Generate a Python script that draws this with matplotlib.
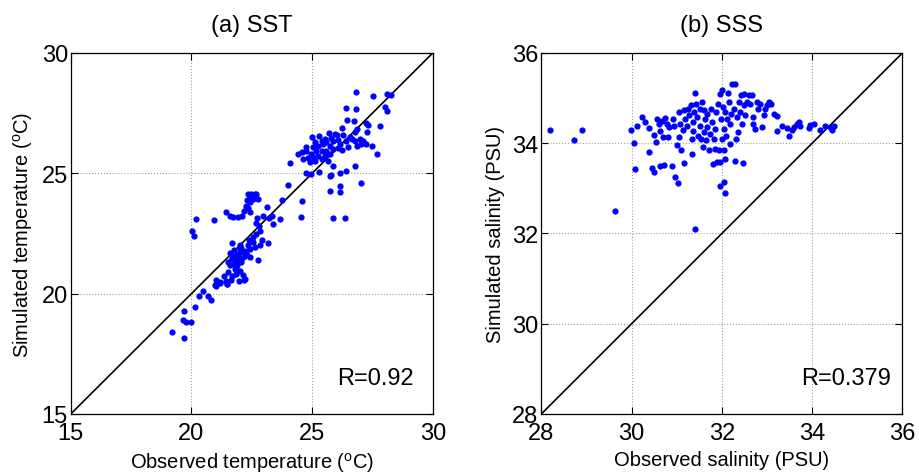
import matplotlib
matplotlib.use("Agg")
import matplotlib.pyplot as plt
from matplotlib import font_manager

# SST scatter values (observed, simulated), degC
sst_obs = [26.81, 27.50, 28.08, 28.25, 26.39, 26.81, 28.00, 28.11, 26.45, 26.75,
           27.22, 27.32, 27.80, 26.22, 26.86, 26.78, 27.28, 25.70, 25.94, 26.04,
           25.01, 25.29, 25.52, 25.80, 26.28, 26.56, 26.67, 26.97, 27.11, 25.11,
           25.39, 25.59, 25.87, 26.08, 26.42, 26.77, 27.04, 27.22, 27.46, 24.76,
           25.04, 25.25, 25.46, 25.73, 26.15, 26.49, 26.84, 24.42, 24.56, 24.76,
           24.97, 25.18, 25.39, 25.59, 25.87, 26.08, 26.22, 24.63, 24.83, 25.04,
           25.25, 25.52, 25.73, 27.67, 24.07, 24.90, 25.11, 25.39, 25.66, 25.87,
           26.77, 26.42, 24.76, 24.97, 25.29, 25.73, 25.80, 26.15, 24.01, 27.02,
           26.15, 25.76, 26.15, 24.56, 23.77, 25.85, 26.36, 24.52,
           22.35, 22.48, 22.62, 22.41, 22.66, 22.76, 22.55, 22.30, 22.41, 22.25,
           22.35, 22.17, 22.41, 22.11, 21.45, 21.59, 21.72, 21.93, 23.13, 22.97,
           23.20, 23.34, 23.66, 23.38, 22.72, 22.66, 22.80, 22.86, 22.69, 22.53,
           22.39, 22.55, 22.93, 23.17, 22.83, 22.62, 22.41, 22.28, 22.11, 21.93,
           21.72, 21.86, 21.66, 21.52, 21.59, 21.79, 22.07, 22.21, 22.41, 22.00,
           21.68, 22.03, 22.35, 22.76, 21.79, 22.00, 22.14, 21.86, 21.66, 21.52,
           21.34, 21.03, 21.20, 21.48, 20.96, 20.48, 20.20, 20.92, 20.04, 20.09,
           21.97, 22.21, 21.70, 21.90, 22.00, 21.80, 22.10, 21.60, 21.90, 22.20,
           21.75, 22.05, 21.85, 22.30,
           20.32, 20.69, 20.79, 20.14, 19.70, 19.63, 19.77, 19.97, 19.21, 19.70,
           21.01, 21.20, 21.48, 21.42, 21.62, 22.18]
sst_sim = [28.39, 28.23, 28.31, 28.27, 27.73, 27.65, 27.76, 27.59, 27.22, 27.16,
           27.08, 27.01, 26.95, 26.87, 26.84, 26.73, 26.70, 26.66, 26.63, 26.57,
           26.50, 26.54, 26.43, 26.45, 26.57, 26.50, 26.43, 26.43, 26.36, 26.29,
           26.36, 26.29, 26.36, 26.39, 26.36, 26.32, 26.22, 26.22, 26.15, 26.08,
           26.08, 26.15, 26.22, 26.15, 26.22, 26.08, 26.15, 25.80, 25.90, 25.94,
           25.80, 25.94, 25.94, 25.94, 26.01, 26.04, 25.97, 25.60, 25.62, 25.67,
           25.71, 25.71, 25.80, 25.79, 25.42, 25.46, 25.49, 25.60, 25.49, 25.29,
           25.29, 25.08, 25.00, 24.97, 25.07, 24.90, 24.93, 25.01, 24.52, 24.61,
           24.46, 24.25, 24.21, 23.86, 23.91, 23.13, 23.13, 23.19,
           24.14, 24.14, 24.14, 24.03, 24.12, 23.94, 23.94, 23.87, 23.80, 23.66,
           23.56, 23.45, 23.38, 23.24, 23.41, 23.24, 23.20, 23.17, 23.59, 23.22,
           23.15, 23.24, 23.11, 22.90, 23.13, 22.93, 22.79, 22.62, 22.48, 22.34,
           22.21, 22.14, 22.23, 22.09, 22.00, 21.93, 21.86, 21.79, 21.72, 21.65,
           21.58, 21.44, 21.44, 21.31, 21.17, 21.24, 21.31, 21.58, 21.51, 21.86,
           22.09, 22.04, 22.00, 21.40, 21.03, 20.96, 20.79, 20.82, 20.75, 20.89,
           20.75, 20.57, 20.47, 20.40, 20.34, 20.10, 23.09, 23.04, 22.62, 22.41,
           20.54, 20.61, 21.50, 21.60, 21.40, 21.30, 21.50, 21.70, 21.20, 21.70,
           21.80, 21.90, 21.05, 21.60,
           19.89, 19.92, 19.75, 19.43, 19.27, 18.92, 18.81, 18.81, 18.42, 18.16,
           20.33, 20.44, 20.40, 20.54, 20.57, 20.57]

# SSS scatter values (observed, simulated), PSU
sss_obs = [28.20, 28.73, 28.90, 29.63, 29.98, 30.06, 30.07, 30.13, 30.23, 30.30,
           30.38, 30.38, 30.45, 30.49, 30.50, 30.53, 30.56, 30.60, 30.63, 30.63,
           30.67, 30.69, 30.72, 30.75, 30.78, 30.80, 30.82, 30.89, 30.92, 30.94,
           30.97, 31.00, 31.02, 31.04, 31.06, 31.08, 31.10, 31.14, 31.15, 31.17,
           31.19, 31.23, 31.26, 31.28, 31.31, 31.33, 31.34, 31.36, 31.37, 31.41,
           31.39, 31.43, 31.45, 31.48, 31.51, 31.52, 31.54, 31.56, 31.58, 31.60,
           31.61, 31.63, 31.65, 31.67, 31.68, 31.71, 31.73, 31.76, 31.78, 31.80,
           31.82, 31.84, 31.85, 31.88, 31.89, 31.91, 31.93, 31.95, 31.96, 31.96,
           31.98, 32.00, 32.01, 32.02, 32.04, 32.05, 32.05, 32.07, 32.08, 32.08,
           32.10, 32.11, 32.13, 32.15, 32.17, 32.19, 32.20, 32.22, 32.26, 32.28,
           32.30, 32.32, 32.33, 32.35, 32.37, 32.41, 32.42, 32.45, 32.47, 32.48,
           32.50, 32.52, 32.56, 32.59, 32.63, 32.67, 32.70, 32.70, 32.74, 32.78,
           32.81, 32.85, 32.89, 32.93, 32.96, 33.00, 33.04, 33.09, 33.15, 33.21,
           33.22, 33.33, 33.44, 33.48, 33.55, 33.59, 33.66, 33.70, 33.74, 33.92,
           33.96, 34.03, 34.18, 34.29, 34.40, 34.44, 34.49, 31.40]
sss_sim = [34.29, 34.08, 34.29, 32.50, 34.29, 34.00, 33.42, 34.39, 34.58, 34.48,
           34.33, 33.81, 33.45, 33.37, 34.19, 34.02, 34.54, 34.43, 34.28, 33.49,
           34.50, 34.13, 33.51, 34.56, 34.43, 34.13, 34.36, 33.49, 34.54, 34.39,
           33.25, 33.96, 33.12, 34.13, 34.69, 34.43, 33.85, 34.30, 34.73, 33.56,
           34.54, 34.39, 34.76, 34.62, 34.84, 33.77, 34.10, 34.47, 34.28, 35.12,
           34.69, 34.87, 34.58, 34.17, 34.76, 34.39, 34.10, 34.91, 33.91, 34.25,
           34.73, 34.54, 34.06, 34.36, 34.65, 33.84, 34.21, 34.76, 34.47, 33.54,
           34.10, 33.88, 34.32, 34.69, 33.58, 34.87, 33.84, 35.10, 33.58, 33.05,
           34.54, 34.10, 35.17, 34.80, 34.32, 33.14, 33.85, 32.89, 33.65, 34.69,
           34.17, 34.54, 35.12, 34.91, 33.99, 34.43, 34.65, 35.32, 34.76, 35.32,
           33.60, 34.10, 34.58, 34.25, 34.91, 34.69, 35.07, 34.43, 33.56, 34.84,
           35.10, 34.62, 34.91, 35.07, 34.87, 35.06, 34.58, 34.43, 34.32, 34.91,
           34.76, 34.87, 34.36, 34.62, 34.76, 34.84, 34.91, 34.87, 34.65, 34.60,
           34.28, 34.39, 34.33, 34.17, 34.30, 34.36, 34.43, 34.48, 34.39, 34.33,
           34.41, 34.43, 34.30, 34.39, 34.36, 34.30, 34.39, 32.09]

sst_ticks = [15, 20, 25, 30]
sss_ticks = [28, 30, 32, 34, 36]

# narrow helvetica-ish font if it is there
names = [f.name for f in font_manager.fontManager.ttflist]
font = "Liberation Sans Narrow" if "Liberation Sans Narrow" in names else "Liberation Sans"
plt.rcParams['font.family'] = [font, 'DejaVu Sans']
plt.rcParams['mathtext.fontset'] = 'custom'
plt.rcParams['mathtext.rm'] = font
plt.rcParams['xtick.direction'] = 'in'
plt.rcParams['ytick.direction'] = 'in'


def panel(ax, obs, sim, ticks, title, xlab, ylab, rtext, rx):
    lo, hi = ticks[0], ticks[-1]
    ax.plot([lo, hi], [lo, hi], color='k', lw=1.2, zorder=2)
    ax.plot(obs, sim, 'o', color='#0000ff', ms=4.5, mec='none', zorder=3)
    ax.set_xlim(lo, hi)
    ax.set_ylim(lo, hi)
    ax.set_xticks(ticks)
    ax.set_yticks(ticks)
    ax.tick_params(labelsize=17, top=True, right=True, length=5, width=0.8)
    ax.tick_params(axis='x', pad=6)
    ax.tick_params(axis='y', pad=2)
    ax.grid(True, color='#a0a0a0', ls=':', lw=0.8)
    for s in ax.spines.values():
        s.set_linewidth(0.9)
    ax.set_title(title, fontsize=17, pad=16)
    ax.set_xlabel(xlab, fontsize=14.5, labelpad=4)
    ax.set_ylabel(ylab, fontsize=14.5, labelpad=5)
    ax.text(rx, 0.083, rtext, transform=ax.transAxes, fontsize=17, va='baseline')


fig = plt.figure(figsize=(9.19, 4.77), dpi=100)
ax1 = fig.add_axes([0.077, 0.130, 0.394, 0.757])
ax2 = fig.add_axes([0.589, 0.130, 0.393, 0.757])

panel(ax1, sst_obs, sst_sim, sst_ticks, '(a) SST',
      r'Observed temperature ($^{\mathrm{o}}$C)', r'Simulated temperature ($^{\mathrm{o}}$C)',
      'R=0.92', 0.735)
panel(ax2, sss_obs, sss_sim, sss_ticks, '(b) SSS',
      'Observed salinity (PSU)', 'Simulated salinity (PSU)',
      'R=0.379', 0.72)

fig.savefig('out.png', dpi=100)
